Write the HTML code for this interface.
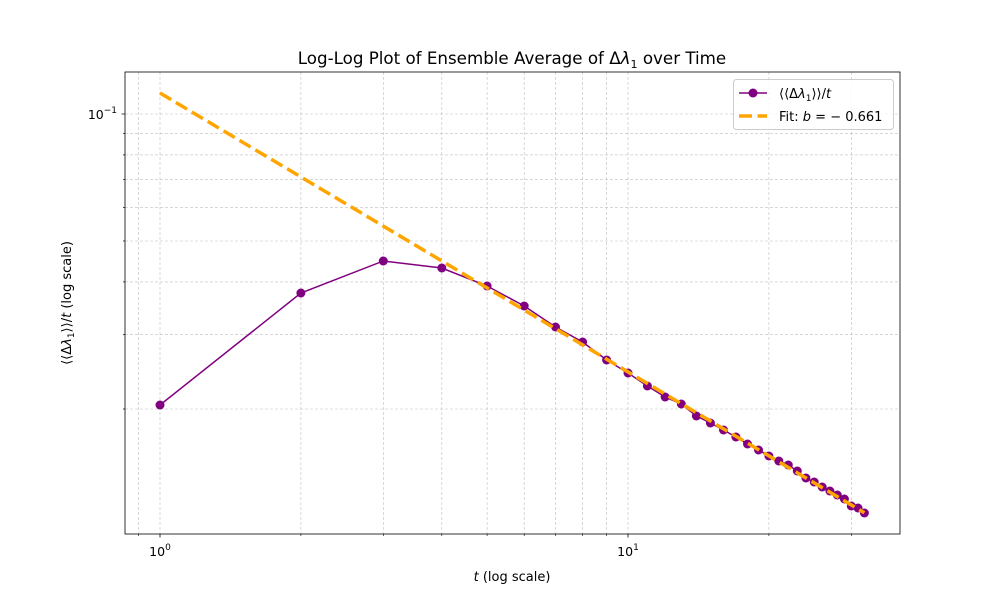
<!DOCTYPE html>
<html><head><meta charset="utf-8"><style>
body{margin:0;background:#fff;font-family:"DejaVu Sans","Liberation Sans",sans-serif;}
</style></head><body>
<svg id="s" width="1000" height="600" xmlns="http://www.w3.org/2000/svg" font-family="DejaVu Sans, Liberation Sans, sans-serif"></svg>
<script>
const s=document.getElementById('s');
const X0=160,DX=468,Y0=114,DY=422;
const xp=t=>X0+DX*Math.log10(t);
const yp=v=>Y0-DY*(Math.log10(v)+1);
let h='';
const xs=[0.9,1,2,3,4,5,6,7,8,9,10,20,30];
for(const t of xs){const x=xp(t).toFixed(1);h+=`<line x1="${x}" y1="72" x2="${x}" y2="534" stroke="#b0b0b0" stroke-width="0.6" stroke-dasharray="3,2" opacity="0.8"/>`;
 h+=`<line x1="${x}" y1="534" x2="${x}" y2="${t==1||t==10?537.5:536}" stroke="#000" stroke-width="${t==1||t==10?0.8:0.6}"/>`;}
for(const v of [0.02,0.03,0.04,0.05,0.06,0.07,0.08,0.09,0.1]){const y=yp(v).toFixed(1);h+=`<line x1="125" y1="${y}" x2="900" y2="${y}" stroke="#b0b0b0" stroke-width="0.6" stroke-dasharray="3,2" opacity="0.8"/>`;
 h+=`<line x1="${v==0.1?121.5:123}" y1="${y}" x2="125" y2="${y}" stroke="#000" stroke-width="0.7"/>`;}
const ys=[405,293,261,268,286,306,327,342,360,373,386,397,404,416,423,430,437,444,450,456,461,465,471,478,482,487,491,495,499,506,508,513];
let pts=ys.map((y,i)=>[xp(i+1),y]);
h+=`<polyline points="${pts.map(p=>p[0].toFixed(1)+','+p[1]).join(' ')}" fill="none" stroke="#800080" stroke-width="1.5"/>`;
for(const p of pts)h+=`<circle cx="${p[0].toFixed(1)}" cy="${p[1]}" r="4.5" fill="#800080"/>`;
h+=`<line x1="160" y1="93" x2="${xp(32).toFixed(1)}" y2="${(93+0.661*DY*Math.log10(32)).toFixed(1)}" stroke="#FFA500" stroke-width="3.5" stroke-dasharray="13,5.5"/>`;
h+=`<rect x="125" y="72" width="775" height="462" fill="none" stroke="#000" stroke-width="0.8"/>`;
h+=`<text x="160" y="556" font-size="12.5" text-anchor="middle">10<tspan dy="-6" font-size="9">0</tspan></text>`;
h+=`<text x="628" y="556" font-size="12.5" text-anchor="middle">10<tspan dy="-6" font-size="9">1</tspan></text>`;
h+=`<text x="117" y="119" font-size="12.5" text-anchor="end">10<tspan dy="-6" font-size="9">−1</tspan></text>`;
h+=`<text x="512" y="581" font-size="13" text-anchor="middle"><tspan font-style="italic">t</tspan> (log scale)</text>`;
h+=`<text transform="translate(71,303) rotate(-90)" font-size="13" text-anchor="middle">⟨⟨Δ<tspan font-style="italic">λ</tspan><tspan font-size="9" dy="3">1</tspan><tspan dy="-3">⟩⟩/</tspan><tspan font-style="italic">t</tspan> (log scale)</text>`;
h+=`<text x="512" y="64" font-size="16.7" text-anchor="middle">Log-Log Plot of Ensemble Average of Δ<tspan font-style="italic">λ</tspan><tspan font-size="11" dy="4">1</tspan><tspan dy="-4"> over Time</tspan></text>`;
h+=`<rect x="733.5" y="79.5" width="160" height="50" rx="3" fill="#fff" fill-opacity="0.8" stroke="#ccc"/>`;
h+=`<line x1="739" y1="93" x2="767" y2="93" stroke="#800080" stroke-width="1.5"/><circle cx="753" cy="93" r="4.5" fill="#800080"/>`;
h+=`<text x="779" y="98" font-size="13">⟨⟨Δ<tspan font-style="italic">λ</tspan><tspan font-size="9" dy="3">1</tspan><tspan dy="-3">⟩⟩/</tspan><tspan font-style="italic">t</tspan></text>`;
h+=`<line x1="739" y1="116" x2="767" y2="116" stroke="#FFA500" stroke-width="3.5" stroke-dasharray="13,5.5"/>`;
h+=`<text x="779" y="121" font-size="13">Fit: <tspan font-style="italic">b</tspan> = − 0.661</text>`;
s.innerHTML=h;
</script>
</body></html>
